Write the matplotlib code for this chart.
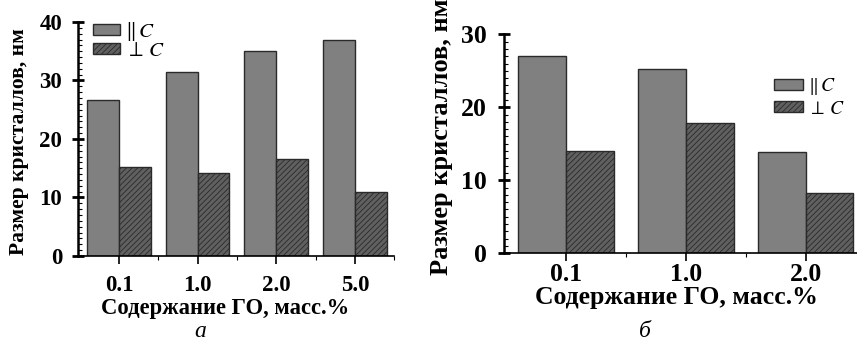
import numpy as np
import matplotlib
matplotlib.use("Agg")
import matplotlib.pyplot as plt
from matplotlib.ticker import MultipleLocator, FixedLocator

plt.rcParams["font.family"] = ["Liberation Serif", "DejaVu Serif"]
plt.rcParams["mathtext.fontset"] = "stix"
plt.rcParams["hatch.linewidth"] = 0.6
plt.rcParams["hatch.color"] = "#1a1a1a"

# ---- data ----
cat_a = ["0.1", "1.0", "2.0", "5.0"]
par_a = [26.6, 31.5, 35.1, 37.0]
perp_a = [15.2, 14.2, 16.6, 10.9]

cat_b = ["0.1", "1.0", "2.0"]
par_b = [27.1, 25.2, 13.9]
perp_b = [14.0, 17.8, 8.3]

label_par = r"$\Vert\,C$"
label_perp = r"$\perp\,C$"
xlabel = "Содержание ГО, масс.%"
ylabel = "Размер кристаллов, нм"

fig = plt.figure(figsize=(8.57, 3.44), dpi=100)

ax1 = fig.add_axes([0.091, 0.256, 0.369, 0.680])
ax2 = fig.add_axes([0.588, 0.264, 0.412, 0.636])


def draw(ax, cats, par, perp, w, ymax, tick_fs, xlim_r, xpad, ypad):
    x = np.arange(len(cats))
    ax.bar(x - w, par, width=w, align="edge", color="#808080",
           edgecolor="#2a2a2a", linewidth=1.0, label=label_par)
    ax.bar(x, perp, width=w, align="edge", color="#606060",
           edgecolor="#2a2a2a", linewidth=1.0, hatch="//////", label=label_perp)
    ax.set_xlim(-0.52, xlim_r)
    ax.set_ylim(0, ymax)
    ax.spines["top"].set_visible(False)
    ax.spines["right"].set_visible(False)
    ax.spines["left"].set_linewidth(1.8)
    ax.spines["bottom"].set_linewidth(1.2)
    ax.set_xticks(x)
    ax.set_xticklabels(cats, fontsize=tick_fs, fontweight="bold")
    ax.xaxis.set_minor_locator(FixedLocator(x + 0.5))
    ax.yaxis.set_major_locator(MultipleLocator(10))
    ax.yaxis.set_minor_locator(MultipleLocator(1))
    ax.tick_params(axis="y", which="major", direction="inout", length=9, width=2,
                   labelsize=tick_fs, pad=ypad)
    ax.tick_params(axis="y", which="minor", direction="in", length=3, width=0.8)
    ax.tick_params(axis="x", which="major", direction="out", length=6, width=1.2,
                   labelsize=tick_fs, pad=xpad)
    ax.tick_params(axis="x", which="minor", direction="out", length=3, width=0.8)
    for t in ax.get_yticklabels():
        t.set_fontweight("bold")


draw(ax1, cat_a, par_a, perp_a, 0.405, 40, 16.5, 3.5, 8, 7)
draw(ax2, cat_b, par_b, perp_b, 0.40, 30, 18.5, 2.43, 1, 8)

ax1.set_xlabel(xlabel, fontsize=16.3, fontweight="bold")
ax1.set_ylabel(ylabel, fontsize=15.5, fontweight="bold")
ax2.set_xlabel(xlabel, fontsize=18.5, fontweight="bold")
ax2.set_ylabel(ylabel, fontsize=19, fontweight="bold")

ax1.xaxis.set_label_coords(0.465, -0.18)
ax1.yaxis.set_label_coords(-0.155, 0.49)
ax2.xaxis.set_label_coords(0.489, -0.15)
ax2.yaxis.set_label_coords(-0.145, 0.53)

ax1.legend(loc="upper left", bbox_to_anchor=(0.047, 1.01), frameon=False,
           prop={"size": 15, "weight": "normal"}, handlelength=1.3, handleheight=0.45,
           handletextpad=0.25, labelspacing=-0.05, borderaxespad=0, borderpad=0)
ax2.legend(loc="upper left", bbox_to_anchor=(0.765, 0.81), frameon=False,
           prop={"size": 14, "weight": "normal"}, handlelength=1.5, handleheight=0.5,
           handletextpad=0.25, labelspacing=0.2, borderaxespad=0, borderpad=0)

fig.text(0.234, 0.02, "а", fontsize=17, style="italic", ha="center")
fig.text(0.753, 0.02, "б", fontsize=17, style="italic", ha="center")

fig.savefig("out.png", dpi=100)
